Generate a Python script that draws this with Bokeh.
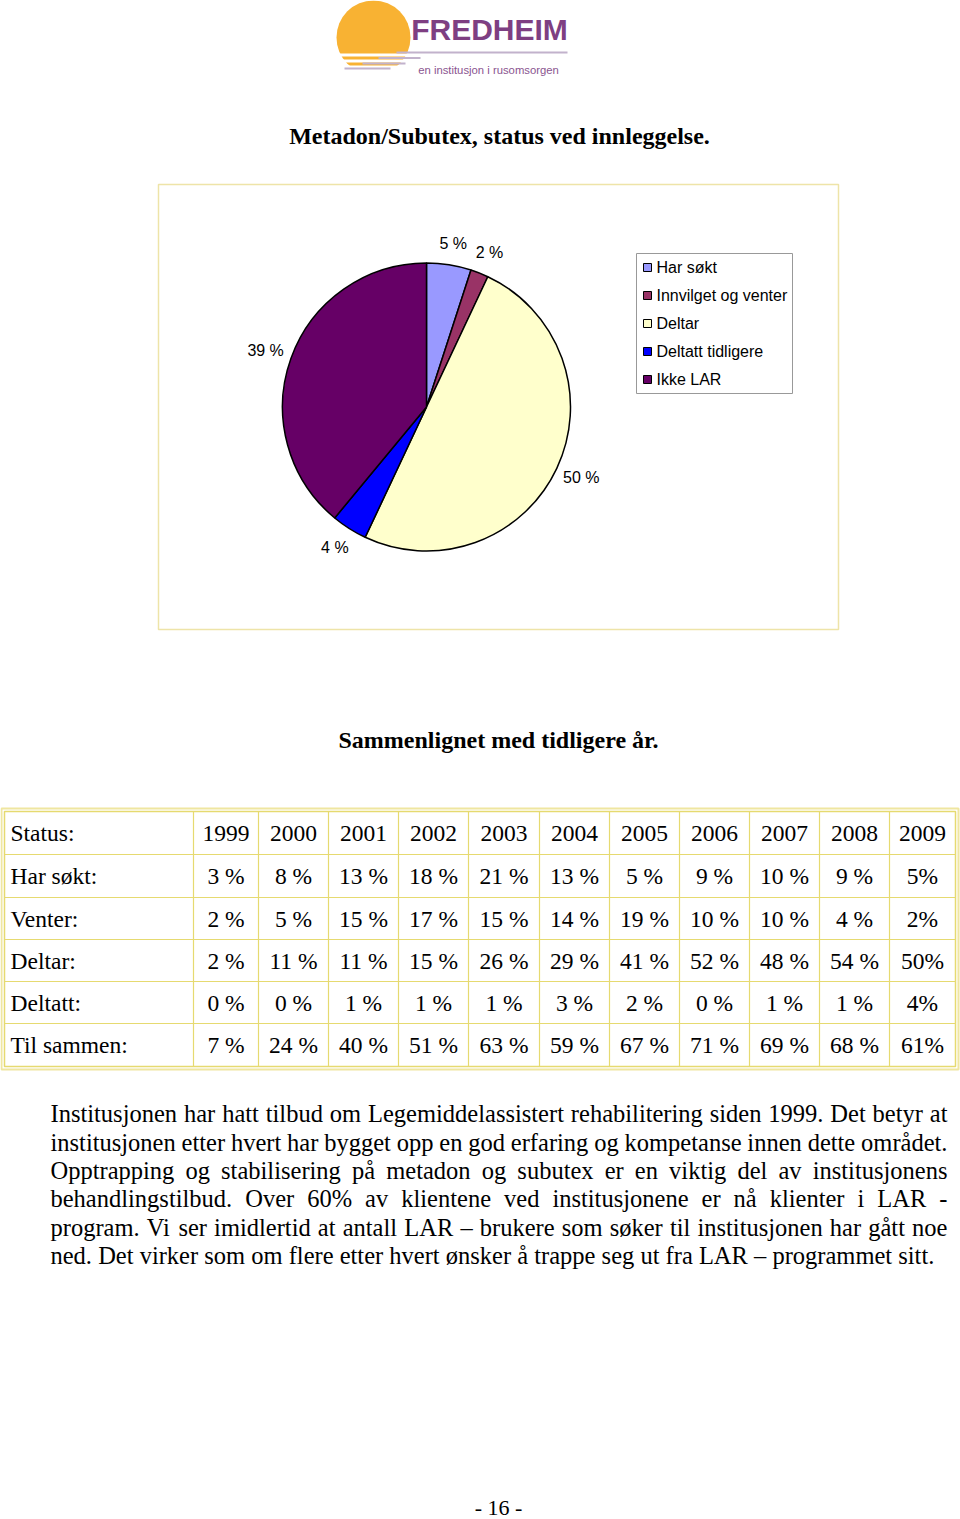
import numpy as np
from bokeh.plotting import figure
from bokeh.models import Range1d
from bokeh.core.properties import value
from bokeh.embed import file_html
from bokeh.resources import INLINE

# ---------------- data ----------------
pie_labels = ["Har søkt", "Innvilget og venter", "Deltar", "Deltatt tidligere", "Ikke LAR"]
pie_values = [5, 2, 50, 4, 39]
pie_colors = ["#9999FF", "#993366", "#FFFFCC", "#0000FF", "#660066"]

years = ["1999", "2000", "2001", "2002", "2003", "2004", "2005", "2006", "2007", "2008", "2009"]
row_labels = ["Status:", "Har søkt:", "Venter:", "Deltar:", "Deltatt:", "Til sammen:"]
har_sokt = ["3 %", "8 %", "13 %", "18 %", "21 %", "13 %", "5 %", "9 %", "10 %", "9 %", "5%"]
venter = ["2 %", "5 %", "15 %", "17 %", "15 %", "14 %", "19 %", "10 %", "10 %", "4 %", "2%"]
deltar = ["2 %", "11 %", "11 %", "15 %", "26 %", "29 %", "41 %", "52 %", "48 %", "54 %", "50%"]
deltatt = ["0 %", "0 %", "1 %", "1 %", "1 %", "3 %", "2 %", "0 %", "1 %", "1 %", "4%"]
til_sammen = ["7 %", "24 %", "40 %", "51 %", "63 %", "59 %", "67 %", "71 %", "69 %", "68 %", "61%"]

title_text = "Metadon/Subutex, status ved innleggelse."
subtitle_text = "Sammenlignet med tidligere år."
paragraph_lines = [
    "Institusjonen har hatt tilbud om Legemiddelassistert rehabilitering siden 1999. Det betyr at",
    "institusjonen etter hvert har bygget opp en god erfaring og kompetanse innen dette området.",
    "Opptrapping og stabilisering på metadon og subutex er en viktig del av institusjonens",
    "behandlingstilbud. Over 60% av klientene ved institusjonene er nå klienter i LAR -",
    "program. Vi ser imidlertid at antall LAR – brukere som søker til institusjonen har gått noe",
    "ned. Det virker som om flere etter hvert ønsker å trappe seg ut fra LAR – programmet sitt.",
]
page_number = "- 16 -"

# ---------------- page setup ----------------
W, H = 960, 1519
def Y(y):
    return H - y

SERIF = value("Liberation Serif")
SANS = value("Liberation Sans")

p = figure(width=W, height=H, x_range=Range1d(0, W), y_range=Range1d(0, H),
           output_backend="svg", toolbar_location=None, min_border=0,
           x_axis_location=None, y_axis_location=None)
p.grid.visible = False
p.outline_line_color = None
p.background_fill_color = "white"
p.border_fill_color = "white"

# ---------------- logo ----------------
p.circle(x=[373], y=[Y(37)], radius=37, fill_color="#F8B233", line_color=None)
# white bands cutting the bottom of the sun (stair shape)
p.quad(left=[330, 330, 330], right=[420, 420, 420],
       top=[Y(53), Y(59), Y(65)], bottom=[Y(56), Y(62), Y(80)],
       fill_color="white", line_color=None)
p.segment(x0=[396, 378, 362, 344], y0=[Y(52), Y(57.5), Y(63), Y(68)],
          x1=[567, 420, 405, 390], y1=[Y(52), Y(57.5), Y(63), Y(68)],
          line_color="#C2B2CC", line_width=2)
p.text(x=[489], y=[Y(29)], text=["FREDHEIM"], text_font=SANS,
       text_font_style="bold", text_font_size="30px", text_color="#7E3F82",
       text_align="center", text_baseline="middle")
p.text(x=[488], y=[Y(69)], text=["en institusjon i rusomsorgen"], text_font=SANS,
       text_font_size="11.3px", text_color="#8A5590", text_align="center", text_baseline="middle")

# ---------------- title ----------------
p.text(x=[499], y=[Y(135)], text=[title_text], text_font=SERIF, text_font_style="bold",
       text_font_size="24px", text_color="black", text_align="center", text_baseline="middle")

# ---------------- pie chart frame ----------------
p.quad(left=[158], right=[838], top=[Y(184)], bottom=[Y(629)],
       fill_color=None, line_color="#EEE4A8", line_width=1.5)

cx, cy, R = 426, Y(406.5), 144
fr = np.array(pie_values, dtype=float) / sum(pie_values)
cum = np.concatenate([[0], np.cumsum(fr)])
a_start = np.pi / 2 - 2 * np.pi * cum[:-1]
a_end = np.pi / 2 - 2 * np.pi * cum[1:]
p.wedge(x=[cx] * len(fr), y=[cy] * len(fr), radius=R,
        start_angle=list(a_end), end_angle=list(a_start),
        fill_color=pie_colors, line_color="black", line_width=1.5)

mid = (a_start + a_end) / 2
lab_x = cx + (R + 27) * np.cos(mid)
lab_y = cy + (R + 22) * np.sin(mid)
p.text(x=list(lab_x), y=list(lab_y),
       text=[f"{v} %" for v in pie_values], text_font=SANS, text_font_size="16px",
       text_color="black", text_align="center", text_baseline="middle")

# legend
p.quad(left=[636], right=[792], top=[Y(253)], bottom=[Y(393)],
       fill_color="white", line_color="#999999", line_width=1)
leg_y = [Y(267 + 28 * i) for i in range(len(pie_labels))]
p.rect(x=[647] * len(pie_labels), y=leg_y, width=8, height=8,
       fill_color=pie_colors, line_color="black", line_width=1)
p.text(x=[656] * len(pie_labels), y=leg_y, text=pie_labels, text_font=SANS,
       text_font_size="16px", text_color="black", text_align="left", text_baseline="middle")

# ---------------- subtitle ----------------
p.text(x=[498], y=[Y(739)], text=[subtitle_text], text_font=SERIF, text_font_style="bold",
       text_font_size="24px", text_color="black", text_align="center", text_baseline="middle")

# ---------------- table ----------------
col_edges = [4, 193, 258, 328, 398, 468, 539, 609, 679, 749, 819, 889, 955]
row_edges = [811, 854, 897, 939, 981, 1023, 1066]
TL = "#E6DA70"
# outer double border
p.quad(left=[1], right=[958], top=[Y(808)], bottom=[Y(1069)],
       fill_color=None, line_color="#EFE6A0", line_width=2)
p.quad(left=[col_edges[0]], right=[col_edges[-1]], top=[Y(row_edges[0])], bottom=[Y(row_edges[-1])],
       fill_color=None, line_color=TL, line_width=1.5)
p.segment(x0=col_edges[1:-1], y0=[Y(row_edges[0])] * (len(col_edges) - 2),
          x1=col_edges[1:-1], y1=[Y(row_edges[-1])] * (len(col_edges) - 2),
          line_color=TL, line_width=1.2)
p.segment(x0=[col_edges[0]] * (len(row_edges) - 2), y0=[Y(r) for r in row_edges[1:-1]],
          x1=[col_edges[-1]] * (len(row_edges) - 2), y1=[Y(r) for r in row_edges[1:-1]],
          line_color=TL, line_width=1.2)

row_centers = [Y((row_edges[i] + row_edges[i + 1]) / 2) for i in range(len(row_edges) - 1)]
col_centers = [(col_edges[i] + col_edges[i + 1]) / 2 for i in range(1, len(col_edges) - 1)]
p.text(x=[10] * len(row_labels), y=row_centers, text=row_labels, text_font=SERIF,
       text_font_size="23.5px", text_color="black", text_align="left", text_baseline="middle")
table_rows = [years, har_sokt, venter, deltar, deltatt, til_sammen]
for ri, row in enumerate(table_rows):
    p.text(x=col_centers, y=[row_centers[ri]] * len(row), text=row, text_font=SERIF,
           text_font_size="23.5px", text_color="black", text_align="center", text_baseline="middle")

# ---------------- paragraph (justified) ----------------
TW = {' ': 250, 'a': 444, 'b': 500, 'c': 444, 'd': 500, 'e': 444, 'f': 333, 'g': 500, 'h': 500,
      'i': 278, 'j': 278, 'k': 500, 'l': 278, 'm': 778, 'n': 500, 'o': 500, 'p': 500, 'q': 500,
      'r': 333, 's': 389, 't': 278, 'u': 500, 'v': 500, 'w': 722, 'x': 500, 'y': 500, 'z': 444,
      'ø': 500, 'å': 444, 'æ': 667, '.': 250, ',': 250, '-': 333, '–': 500, '%': 833,
      'A': 722, 'B': 667, 'C': 667, 'D': 722, 'E': 611, 'F': 556, 'G': 722, 'H': 722, 'I': 333,
      'J': 389, 'K': 722, 'L': 611, 'M': 889, 'N': 722, 'O': 722, 'P': 556, 'R': 667, 'S': 556,
      'T': 611, 'U': 722, 'V': 722, 'W': 944}
FS = 24.5
def tw(s):
    return sum(TW.get(c, 500) for c in s) * FS / 1000

X0, X1 = 50, 947
mid_y = [1113.2 + 28.33 * i for i in range(len(paragraph_lines))]
wx, wy, wt = [], [], []
for li, line in enumerate(paragraph_lines):
    words = line.split(" ")
    if li == len(paragraph_lines) - 1:
        gap = tw(" ")
    else:
        gap = (X1 - X0 - sum(tw(w) for w in words)) / (len(words) - 1)
    x = X0
    for w in words:
        wx.append(x); wy.append(Y(mid_y[li])); wt.append(w)
        x += tw(w) + gap
p.text(x=wx, y=wy, text=wt, text_font=SERIF, text_font_size=f"{FS}px", text_color="black",
       text_align="left", text_baseline="middle")

# ---------------- page number ----------------
p.text(x=[498], y=[Y(1507)], text=[page_number], text_font=SERIF, text_font_size="22px",
       text_color="black", text_align="center", text_baseline="middle")

open("out.html", "w").write(file_html(p, INLINE))
